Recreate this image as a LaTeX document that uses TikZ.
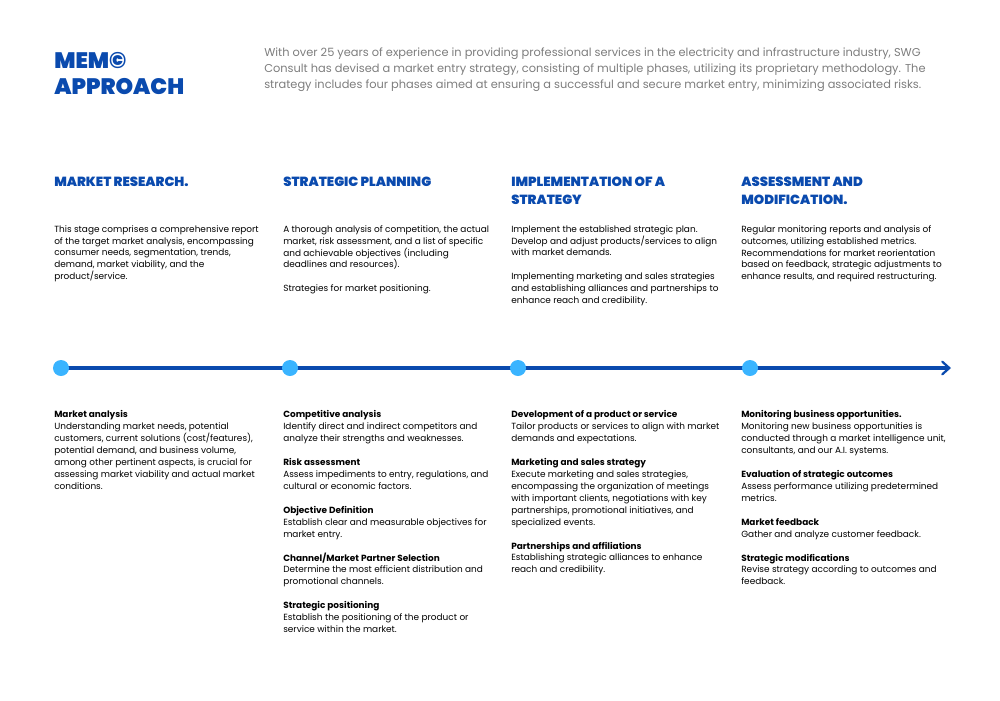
\documentclass[tikz,border=0pt]{standalone}
\usepackage{fontspec}
\setmainfont{Poppins}
\newfontfamily\heavyfont{Poppins Black}
\usetikzlibrary{positioning, calc, arrows.meta}

\definecolor{memblue}{RGB}{10,74,174}
\definecolor{dotblue}{RGB}{58,180,255}
\definecolor{introgray}{RGB}{125,125,125}

\begin{document}
\begin{tikzpicture}[
    x=0.025cm, y=-0.025cm,
    title_text/.style={anchor=north west, inner sep=0, align=left, text=memblue,
        font=\fontsize{15.9}{18.4}\heavyfont},
    intro_text/.style={anchor=north west, inner sep=0, align=left, text=introgray,
        font=\fontsize{8.1}{11.34}\selectfont},
    phase_head/.style={anchor=north west, inner sep=0, align=left, text=memblue,
        font=\fontsize{9.4}{12.76}\heavyfont},
    body_text/.style={anchor=north west, inner sep=0, align=left, text=black,
        font=\fontsize{6.35}{8.5}\selectfont},
    time_dot/.style={circle, fill=dotblue, inner sep=0, minimum size=0.4cm},
    time_line/.style={memblue, line width=2.3pt,
        -{Straight Barb[length=5pt, width=9pt, line width=1.6pt, line cap=round]}}
]
    \useasboundingbox (0,0) rectangle (1000,700);

    % ======================================================================
    % KOPF: TITEL UND EINLEITUNG
    % ======================================================================
    \node[title_text] (title) at (54,52) {MEM©\\APPROACH};
    \node[intro_text] (intro) at (264,48)
        {With over 25 years of experience in providing professional services in the electricity and infrastructure industry, SWG\\
         Consult has devised a market entry strategy, consisting of multiple phases, utilizing its proprietary methodology. The\\
         strategy includes four phases aimed at ensuring a successful and secure market entry, minimizing associated risks.};

    % ======================================================================
    % PHASEN: UEBERSCHRIFTEN UND KURZBESCHREIBUNG
    % ======================================================================
    \node[phase_head] (head1) at (54,177) {MARKET RESEARCH.};
    \node[phase_head] (head2) at (283,177) {STRATEGIC PLANNING};
    \node[phase_head] (head3) at (511,177) {IMPLEMENTATION OF A\\STRATEGY};
    \node[phase_head] (head4) at (741,177) {ASSESSMENT AND\\MODIFICATION.};

    \node[body_text] (desc1) at (54,225)
        {This stage comprises a comprehensive report\\
         of the target market analysis, encompassing\\
         consumer needs, segmentation, trends,\\
         demand, market viability, and the\\
         product/service.};
    \node[body_text] (desc2) at (283,225)
        {A thorough analysis of competition, the actual\\
         market, risk assessment, and a list of specific\\
         and achievable objectives (including\\
         deadlines and resources).\\[0.3cm]
         Strategies for market positioning.};
    \node[body_text] (desc3) at (511,225)
        {Implement the established strategic plan.\\
         Develop and adjust products/services to align\\
         with market demands.\\[0.3cm]
         Implementing marketing and sales strategies\\
         and establishing alliances and partnerships to\\
         enhance reach and credibility.};
    \node[body_text] (desc4) at (741,225)
        {Regular monitoring reports and analysis of\\
         outcomes, utilizing established metrics.\\
         Recommendations for market reorientation\\
         based on feedback, strategic adjustments to\\
         enhance results, and required restructuring.};

    % ======================================================================
    % ZEITSTRAHL
    % ======================================================================
    \coordinate (start) at (61,368);
    \coordinate (tip) at (951,368);
    \draw[time_line] (start) -- (tip);

    \foreach \x [count=\i] in {61,290,518,750}
        \node[time_dot] (dot\i) at (\x,368) {};

    % ======================================================================
    % DETAILS UNTER DEM ZEITSTRAHL
    % ======================================================================
    \node[body_text] (detail1) at (54,410)
        {\textbf{Market analysis}\\
         Understanding market needs, potential\\
         customers, current solutions (cost/features),\\
         potential demand, and business volume,\\
         among other pertinent aspects, is crucial for\\
         assessing market viability and actual market\\
         conditions.};

    \node[body_text] (detail2) at (283,410)
        {\textbf{Competitive analysis}\\
         Identify direct and indirect competitors and\\
         analyze their strengths and weaknesses.\\[0.3cm]
         \textbf{Risk assessment}\\
         Assess impediments to entry, regulations, and\\
         cultural or economic factors.\\[0.3cm]
         \textbf{Objective Definition}\\
         Establish clear and measurable objectives for\\
         market entry.\\[0.3cm]
         \textbf{Channel/Market Partner Selection}\\
         Determine the most efficient distribution and\\
         promotional channels.\\[0.3cm]
         \textbf{Strategic positioning}\\
         Establish the positioning of the product or\\
         service within the market.};

    \node[body_text] (detail3) at (511,410)
        {\textbf{Development of a product or service}\\
         Tailor products or services to align with market\\
         demands and expectations.\\[0.3cm]
         \textbf{Marketing and sales strategy}\\
         Execute marketing and sales strategies,\\
         encompassing the organization of meetings\\
         with important clients, negotiations with key\\
         partnerships, promotional initiatives, and\\
         specialized events.\\[0.3cm]
         \textbf{Partnerships and affiliations}\\
         Establishing strategic alliances to enhance\\
         reach and credibility.};

    \node[body_text] (detail4) at (741,410)
        {\textbf{Monitoring business opportunities.}\\
         Monitoring new business opportunities is\\
         conducted through a market intelligence unit,\\
         consultants, and our A.I. systems.\\[0.3cm]
         \textbf{Evaluation of strategic outcomes}\\
         Assess performance utilizing predetermined\\
         metrics.\\[0.3cm]
         \textbf{Market feedback}\\
         Gather and analyze customer feedback.\\[0.3cm]
         \textbf{Strategic modifications}\\
         Revise strategy according to outcomes and\\
         feedback.};

\end{tikzpicture}
\end{document}
